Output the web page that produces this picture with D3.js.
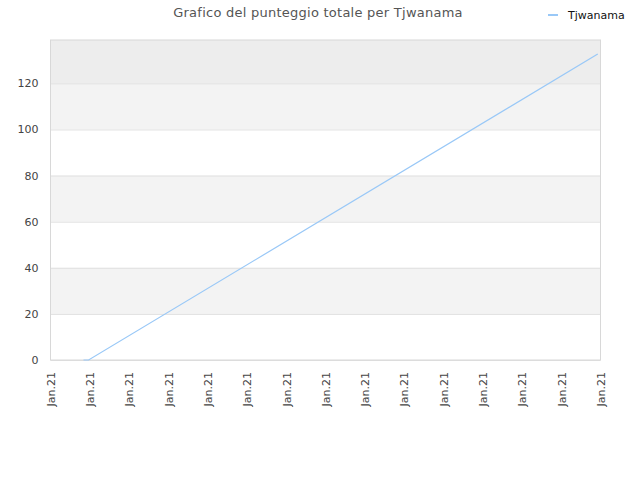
<!DOCTYPE html>
<html><head><meta charset="utf-8">
<script src="https://cdn.jsdelivr.net/npm/d3@7"></script>
<style>body{margin:0;background:#fff}svg{display:block}</style>
</head><body>
<svg id="c" width="640" height="480"></svg>
<script>
const title = "Grafico del punteggio totale per Tjwanama";
const seriesName = "Tjwanama";
const tickLabels = ["Jan.21","Jan.21","Jan.21","Jan.21","Jan.21","Jan.21","Jan.21","Jan.21","Jan.21","Jan.21","Jan.21","Jan.21","Jan.21","Jan.21","Jan.21"];
// x positions in tick units, and total score
const times = [0.84, 0.97, 13.93];
const scores = [0, 0, 132.7];
const yTicks = [0, 20, 40, 60, 80, 100, 120];

const svg = d3.select("#c");
const L = 50.5, R = 600.5, T = 40, B = 360;
const x = d3.scaleLinear().domain([0, tickLabels.length - 1]).range([L, R]);
const y = d3.scaleLinear().domain([0, 138.8]).range([B, T]);

// bands
const bands = [[120, 138.8, "#ededed"], [100, 120, "#f3f3f3"], [60, 80, "#f3f3f3"], [20, 40, "#f3f3f3"]];
svg.selectAll("rect.band").data(bands).enter().append("rect")
  .attr("x", L).attr("width", R - L)
  .attr("y", d => y(d[1])).attr("height", d => y(d[0]) - y(d[1]))
  .attr("fill", d => d[2]);

// grid
const yAxis = d3.axisLeft(y).tickValues(yTicks).tickSize(-(R - L)).tickPadding(12);
const gy = svg.append("g").attr("transform", `translate(${L},0)`).call(yAxis);
gy.select(".domain").remove();
gy.selectAll(".tick line").attr("stroke", "#e0e0e0");
gy.selectAll(".tick text").attr("fill", "#444").style("font-family", "DejaVu Sans, sans-serif").style("font-size", "11px");

// border
svg.append("rect").attr("x", L).attr("y", T).attr("width", R - L).attr("height", B - T)
  .attr("fill", "none").attr("stroke", "#d8d8d8");

// x axis
const xAxis = d3.axisBottom(x).tickValues(d3.range(tickLabels.length)).tickFormat(i => tickLabels[i]).tickSize(0);
const gx = svg.append("g").attr("transform", `translate(0,${B})`).call(xAxis);
gx.select(".domain").remove();
gx.selectAll(".tick text")
  .attr("transform", "rotate(-90)")
  .attr("text-anchor", "end")
  .attr("x", -12).attr("y", 0).attr("dy", "0.35em")
  .attr("fill", "#444").style("font-family", "DejaVu Sans, sans-serif").style("font-size", "11px");

// line
const data = times.map((t, i) => ({t, v: scores[i]}));
svg.append("path").datum(data)
  .attr("fill", "none").attr("stroke", "#99c8f7").attr("stroke-width", 1.2)
  .attr("d", d3.line().x(d => x(d.t)).y(d => y(d.v)));

// title
svg.append("text").attr("x", 318).attr("y", 17).attr("text-anchor", "middle")
  .attr("fill", "#555").style("font-family", "DejaVu Sans, sans-serif").style("font-size", "13px")
  .style("letter-spacing", "0.25px")
  .text(title);

// legend
svg.append("line").attr("x1", 548).attr("x2", 558).attr("y1", 15).attr("y2", 15)
  .attr("stroke", "#99c8f7").attr("stroke-width", 2);
svg.append("text").attr("x", 568).attr("y", 19)
  .attr("fill", "#111").style("font-family", "DejaVu Sans, sans-serif").style("font-size", "11px")
  .text(seriesName);
</script>
</body></html>
